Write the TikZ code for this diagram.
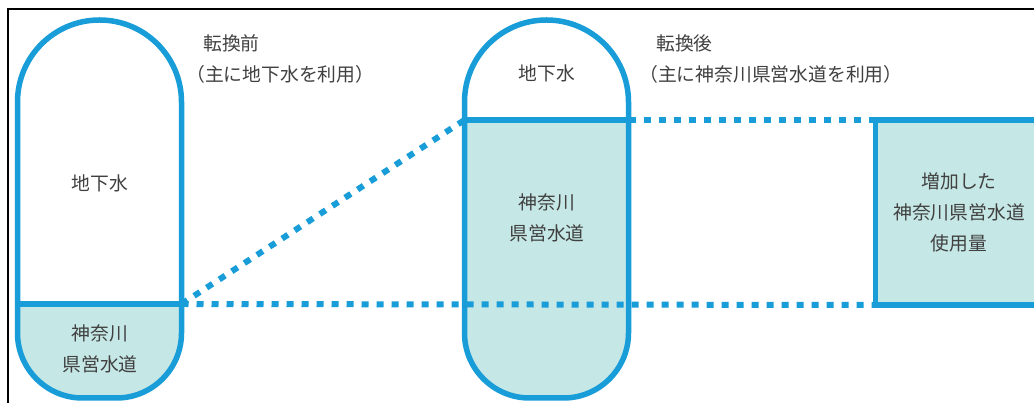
\documentclass[tikz,border=0pt]{standalone}
\usepackage{fontspec}
\newfontfamily\jpfont{Noto Sans CJK JP}
\definecolor{wblue}{RGB}{24,157,216}
\definecolor{wfill}{RGB}{197,231,229}
\definecolor{wtext}{RGB}{64,64,64}
\begin{document}
\begin{tikzpicture}[x=1pt,y=1pt,
  outline/.style={draw=wblue,line width=5.5pt},
  dotline/.style={draw=wblue,line width=6pt,dash pattern=on 7pt off 8pt},
  frameline/.style={draw=black,line width=2pt},
  txt/.style={font=\jpfont\fontsize{18.8}{31}\selectfont,text=wtext,inner sep=0pt,align=center},
  lbl/.style={font=\jpfont\fontsize{18.8}{23}\selectfont,text=wtext,inner sep=0pt,anchor=west}]
\useasboundingbox (0,0) rectangle (1034,403);
\clip (0,0) rectangle (1034,403);
\fill[white] (0,0) rectangle (1034,403);
% frame
\draw[frameline] (8,-2) -- (8,393.5) -- (1040,393.5);
% left capsule
\def\capL{(17.5,301) arc[start angle=180,end angle=0,radius=82] -- (181.5,70) arc[start angle=0,end angle=-90,radius=65] -- (82.5,5) arc[start angle=270,end angle=180,radius=65] -- cycle}
\begin{scope}
  \clip \capL;
  \fill[wfill] (0,0) rectangle (200,99);
\end{scope}
% middle capsule
\def\capM{(464.5,301) arc[start angle=180,end angle=0,radius=82] -- (628.5,70) arc[start angle=0,end angle=-90,radius=65] -- (529.5,5) arc[start angle=270,end angle=180,radius=65] -- cycle}
\begin{scope}
  \clip \capM;
  \fill[wfill] (440,0) rectangle (650,283);
\end{scope}
% right box fill
\fill[wfill] (875.5,98) rectangle (1040,283);
% coordinates
\coordinate (Ldiv) at (181.5,99);
\coordinate (LdivL) at (17.5,99);
\coordinate (MdivL) at (464.5,283);
\coordinate (MdivR) at (628.5,283);
\coordinate (Rtop) at (875.5,283);
\coordinate (Rbot) at (875.5,98);
% dotted connectors
\draw[dotline] (Ldiv) -- (Rbot);
\draw[dotline] (Ldiv) -- (MdivL);
\draw[dotline] (MdivR) -- (Rtop);
% dividers
\draw[outline] (LdivL) -- (Ldiv);
\draw[outline] (MdivL) -- (MdivR);
% outlines
\draw[outline] \capL;
\draw[outline] \capM;
\draw[outline] (1040,283) -- (Rtop) -- (Rbot) -- (1040,98);
% texts
\node[txt] (lgw) at (100,220) {地下水};
\node[txt] (lkw) at (100,54) {神奈川\\県営水道};
\node[txt] (mgw) at (547,330) {地下水};
\node[txt] (mkw) at (547,185) {神奈川\\県営水道};
\node[txt] (rkw) at (959,191) {増加した\\神奈川県営水道\\使用量};
\node[lbl] (lt1) at (203,360) {転換前};
\node[lbl] (lt2) at (186,329) {（主に地下水を利用）};
\node[lbl] (mt1) at (656,360) {転換後};
\node[lbl] (mt2) at (639,329) {（主に神奈川県営水道を利用）};
\end{tikzpicture}
\end{document}
